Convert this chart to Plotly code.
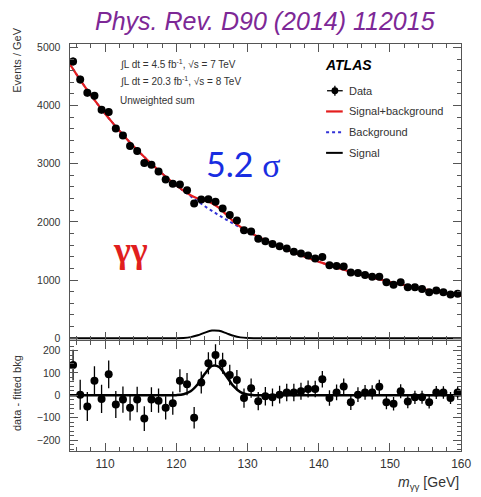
import numpy as np
import plotly.graph_objects as go

# ---- data: diphoton invariant mass spectrum (1 GeV bins) ----
bin_centers = list(np.arange(105.5, 160.0, 1.0))

events = [4758, 4446, 4220, 4169, 3927, 3887, 3605, 3486, 3305, 3220,
          3011, 2983, 2864, 2729, 2655, 2644, 2542, 2316, 2384, 2390,
          2345, 2232, 2119, 2022, 1855, 1836, 1712, 1667, 1621, 1582,
          1542, 1486, 1458, 1424, 1370, 1395, 1254, 1243, 1232, 1130,
          1119, 1085, 1056, 1056, 960, 921, 960, 876, 876, 847,
          791, 819, 791, 751, 763]

stat_err = [69, 67, 65, 65, 63, 62, 60, 59, 57, 57,
            55, 55, 54, 52, 52, 51, 50, 48, 49, 49,
            48, 47, 46, 45, 43, 43, 41, 41, 40, 40,
            39, 39, 38, 38, 37, 37, 35, 35, 35, 34,
            33, 33, 32, 32, 31, 30, 31, 30, 30, 29,
            28, 29, 28, 27, 28]

residual = [135, 3, -50, 65, -16, 94, -41, -19, -56, -19,
            -104, -19, -24, -56, -35, 65, 50, -100, 57, 143,
            180, 143, 91, 68, -12, 32, -26, -4, -9, 3,
            13, 13, 18, 28, 28, 72, -12, 13, 40, -31,
            3, 13, 13, 38, -31, -38, 18, -28, -9, -9,
            -31, 13, 13, -12, 13]

# ---- fitted curves, sampled every 1 GeV ----
curve_mass = list(range(105, 161))

bkg_curve = [4722, 4533, 4353, 4180, 4016, 3859, 3710, 3566, 3430, 3299,
             3174, 3055, 2941, 2832, 2727, 2628, 2532, 2441, 2353, 2269,
             2189, 2112, 2039, 1968, 1900, 1835, 1773, 1714, 1656, 1601,
             1549, 1498, 1450, 1403, 1358, 1315, 1274, 1234, 1196, 1159,
             1124, 1090, 1058, 1026, 996, 967, 939, 912, 886, 861,
             837, 814, 792, 770, 749, 729]

signal_curve = [0] * 14 + [0.1, 0.9, 4.7, 18.3, 49.8, 96.2, 131.3, 126.8,
                           86.7, 41.9, 14.3, 3.5, 0.6] + [0] * 29

sb_curve = [b + s for b, s in zip(bkg_curve, signal_curve)]

# ---- page geometry helpers ----
W, H = 481, 497


def px(xp):
    return xp / W


def py(yp):
    return 1 - yp / H


RED = "rgb(228,30,30)"
BLUE = "rgb(50,50,215)"
AXIS = "#555555"
TXT = "#333333"

fig = go.Figure()

# main panel curves
fig.add_trace(go.Scatter(x=curve_mass, y=bkg_curve, mode="lines",
                         line=dict(color=BLUE, width=2, dash="dot", shape="spline"),
                         xaxis="x", yaxis="y", showlegend=False))
fig.add_trace(go.Scatter(x=curve_mass, y=sb_curve, mode="lines",
                         line=dict(color=RED, width=2.2, shape="spline", smoothing=0.8),
                         xaxis="x", yaxis="y", showlegend=False))
fig.add_trace(go.Scatter(x=curve_mass, y=signal_curve, mode="lines",
                         line=dict(color="black", width=2, shape="spline", smoothing=0.8),
                         xaxis="x", yaxis="y", showlegend=False))
fig.add_trace(go.Scatter(x=bin_centers, y=events, mode="markers",
                         marker=dict(color="black", size=8),
                         error_y=dict(type="data", array=stat_err, color="black",
                                      thickness=1.3, width=0),
                         xaxis="x", yaxis="y", showlegend=False))

# residual panel
fig.add_trace(go.Scatter(x=curve_mass, y=signal_curve, mode="lines",
                         line=dict(color="black", width=2.5, shape="spline", smoothing=0.8),
                         xaxis="x2", yaxis="y2", showlegend=False))
fig.add_trace(go.Scatter(x=bin_centers, y=residual, mode="markers",
                         marker=dict(color="black", size=8),
                         error_y=dict(type="data", array=stat_err, color="black",
                                      thickness=1.3, width=0),
                         xaxis="x2", yaxis="y2", showlegend=False))

x_dom = [px(71), px(471)]
common_x = dict(domain=x_dom, range=[105, 160], tick0=100, dtick=10,
                ticks="inside", ticklen=8, tickcolor=AXIS,
                minor=dict(ticks="inside", dtick=2, ticklen=4, tickcolor=AXIS),
                showline=True, linecolor=AXIS, linewidth=1, mirror="ticks",
                showgrid=False, zeroline=False)

fig.update_layout(
    width=W, height=H,
    margin=dict(l=0, r=0, t=0, b=0),
    paper_bgcolor="white", plot_bgcolor="white",
    font=dict(family="Liberation Sans, Arial, sans-serif", color=TXT),
    xaxis=dict(**common_x, anchor="y", showticklabels=False),
    xaxis2=dict(**common_x, anchor="y2", matches="x", showticklabels=True,
                tickfont=dict(size=12, color=TXT), ticklabelstandoff=2,
                ticklabeloverflow="allow"),
    yaxis=dict(domain=[py(342), py(42)], range=[-34, 5051], dtick=1000,
               ticks="inside", ticklen=8, tickcolor=AXIS,
               minor=dict(ticks="inside", dtick=200, ticklen=4, tickcolor=AXIS),
               showline=True, linecolor=AXIS, linewidth=1, mirror="ticks",
               showgrid=False, zeroline=False,
               tickfont=dict(size=10.5, color=TXT), ticklabelstandoff=6),
    yaxis2=dict(domain=[py(454), py(343)], range=[-247, 242], dtick=100,
                ticks="inside", ticklen=8, tickcolor=AXIS,
                minor=dict(ticks="inside", dtick=20, ticklen=4, tickcolor=AXIS),
                showline=True, linecolor=AXIS, linewidth=1, mirror="ticks",
                showgrid=False, zeroline=False,
                tickfont=dict(size=10.5, color=TXT), ticklabelstandoff=6),
)

ann = []


def text(x, y, s, size, color=TXT, xanchor="left", family=None, angle=0):
    f = dict(size=size, color=color)
    if family:
        f["family"] = family
    ann.append(dict(x=px(x), y=py(y), xref="paper", yref="paper", text=s,
                    showarrow=False, xanchor=xanchor, yanchor="middle",
                    font=f, textangle=angle))


text(271, 18, "<i>Phys. Rev. D90 (2014) 112015</i>", 25,
     color="rgb(125,40,150)", xanchor="center")
text(18, 58, "Events / GeV", 11, xanchor="center", angle=-90)
text(18, 396, "data - fitted bkg", 11, xanchor="center", angle=-90)
text(471, 487, "<i>m</i><sub>γγ</sub> [GeV]", 14, xanchor="right")

text(121, 62, "∫L dt = 4.5 fb<sup>-1</sup>, √s = 7 TeV", 10)
text(121, 79, "∫L dt = 20.3 fb<sup>-1</sup>, √s = 8 TeV", 10)
text(121, 99, "Unweighted sum", 10)

text(330, 63, "<b><i>ATLAS</i></b>", 14, color="black")
text(354, 89, "Data", 11)
text(354, 110, "Signal+background", 11)
text(354, 131, "Background", 11)
text(354, 152, "Signal", 11)

text(249, 163, "5.2 <span style='font-family:Liberation Serif'>σ</span>", 34,
     color="rgb(25,45,225)", xanchor="center", family="Lato, sans-serif")
text(133, 251, "<b>γγ</b>", 36, color="rgb(225,30,30)", xanchor="center",
     family="Liberation Serif, serif")

fig.update_layout(annotations=ann)

# hand-drawn legend keys
shapes = [
    dict(type="line", x0=px(334), x1=px(350), y0=py(89), y1=py(89),
         line=dict(color="black", width=1.3)),
    dict(type="line", x0=px(342), x1=px(342), y0=py(84), y1=py(94),
         line=dict(color="black", width=1.3)),
    dict(type="circle", x0=px(338.5), x1=px(345.5), y0=py(92.5), y1=py(85.5),
         fillcolor="black", line=dict(color="black", width=0)),
    dict(type="line", x0=px(333), x1=px(350), y0=py(110), y1=py(110),
         line=dict(color=RED, width=2.2)),
    dict(type="line", x0=px(333), x1=px(350), y0=py(131), y1=py(131),
         line=dict(color=BLUE, width=2, dash="dot")),
    dict(type="line", x0=px(333), x1=px(350), y0=py(152), y1=py(152),
         line=dict(color="black", width=2)),
]
for s in shapes:
    s.update(xref="paper", yref="paper")
fig.update_layout(shapes=shapes)

fig.write_html("out.html")
